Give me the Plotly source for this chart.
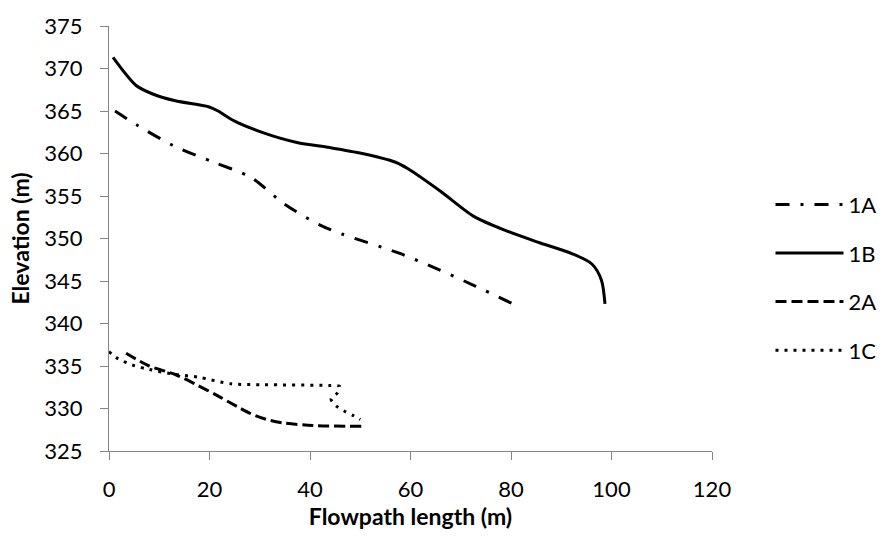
import plotly.graph_objects as go

# Series data (flowpath length in m, elevation in m)
x_1A = [1.2, 5.7, 12.9, 20.7, 28.2, 34.8, 41.9, 46.5, 57.6, 65.4, 72.9, 80.4]
y_1A = [365.0, 363.3, 360.9, 359.0, 357.2, 354.1, 351.6, 350.5, 348.3, 346.4, 344.4, 342.3]

x_1B = [0.8, 5.4, 8.7, 13.2, 19.8, 21.7, 25.0, 30.9, 37.4, 43.9, 50.4, 56.9, 59.5,
        66.1, 72.6, 79.1, 85.7, 92.2, 96.1, 98.0, 98.7]
y_1B = [371.3, 368.0, 367.0, 366.2, 365.5, 365.0, 363.8, 362.4, 361.3, 360.7, 360.0,
        359.0, 358.2, 355.5, 352.6, 350.9, 349.5, 348.2, 347.0, 345.1, 342.3]

x_2A = [3.4, 8.0, 13.2, 17.7, 21.0, 25.6, 28.2, 31.4, 34.7, 40.6, 50.4]
y_2A = [336.5, 335.0, 334.0, 332.7, 331.7, 330.2, 329.4, 328.7, 328.3, 328.0, 327.9]

x_1C = [0.0, 1.4, 4.7, 8.0, 13.2, 17.7, 24.3, 30.8, 43.8, 45.9, 45.4, 44.2, 45.2, 46.8, 48.5, 50.0]
y_1C = [336.7, 336.0, 335.1, 334.6, 334.0, 333.7, 332.9, 332.8, 332.7, 332.6, 331.8, 331.1, 330.3, 329.7, 329.2, 328.7]

series_names = ["1A", "1B", "2A", "1C"]
x_ticks = [0, 20, 40, 60, 80, 100, 120]
y_ticks = [325, 330, 335, 340, 345, 350, 355, 360, 365, 370, 375]

FONT = "Lato"
dashes = {"1A": "14px,11px,3px,11px", "1B": "solid", "2A": "11px,5px", "1C": "3px,6px"}
data = {"1A": (x_1A, y_1A), "1B": (x_1B, y_1B), "2A": (x_2A, y_2A), "1C": (x_1C, y_1C)}

fig = go.Figure()
for name in series_names:
    xs, ys = data[name]
    fig.add_trace(go.Scatter(
        x=xs, y=ys, mode="lines", name=name, legendgroup=name,
        line=dict(color="black", width=3, dash=dashes[name], shape="spline", smoothing=0.8),
    ))

axis_common = dict(
    showgrid=False, zeroline=False, showline=True, linecolor="#868686", linewidth=1.3,
    ticks="outside", tickcolor="#868686", ticklen=8, tickwidth=1.3,
    tickfont=dict(family=FONT, size=22, color="black"),
)

fig.update_layout(
    width=893, height=542,
    margin=dict(l=109, r=171, t=18, b=91),
    paper_bgcolor="white", plot_bgcolor="white",
    font=dict(family=FONT, size=22, color="black"),
    xaxis=dict(range=[0, 120], tickvals=x_ticks, ticklabelstandoff=10, **axis_common,
               title=dict(text="<b>Flowpath length (m)</b>", font=dict(family=FONT, size=23), standoff=4)),
    yaxis=dict(range=[325, 375], tickvals=y_ticks, ticklabelstandoff=13, **axis_common,
               title=dict(text="<b>Elevation (m)</b>", font=dict(family=FONT, size=23), standoff=8)),
    showlegend=True,
    legend=dict(x=1.097, xanchor="left", y=0.408, yanchor="middle",
                font=dict(family=FONT, size=22), itemwidth=68, tracegroupgap=17,
                bgcolor="rgba(0,0,0,0)"),
)

fig.write_html("out.html")
